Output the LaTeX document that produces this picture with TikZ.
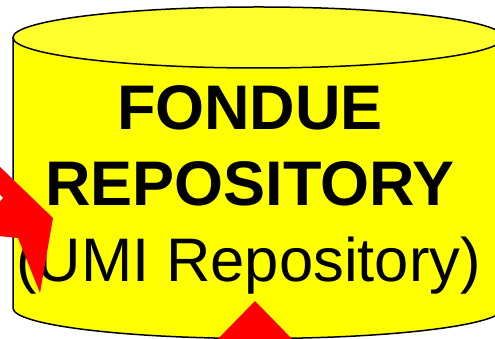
\documentclass[tikz,border=0pt]{standalone}
\usepackage{fontspec}
\setmainfont{Liberation Sans}
\definecolor{bodyyellow}{RGB}{255,255,0}
\definecolor{topyellow}{RGB}{255,255,45}
\definecolor{arrowred}{RGB}{255,0,0}
\begin{document}
\begin{tikzpicture}[x=1pt,y=1pt,
  outline/.style={draw=black,line width=1.5pt},
  bigbold/.style={inner sep=0pt,anchor=base,font=\fontsize{63}{70}\selectfont\bfseries},
  bigreg/.style={inner sep=0pt,anchor=base,font=\fontsize{61.5}{70}\selectfont},
  redshape/.style={fill=arrowred,draw=none}]
\useasboundingbox (0,0) rectangle (495,339);
\clip (0,0) rectangle (495,339);
% cylinder body
\fill[bodyyellow] (13,301.5) -- (13,31) arc[start angle=180,end angle=360,x radius=245.3,y radius=30.5] -- (503.6,301.5) -- cycle;
\draw[outline] (13,301.5) -- (13,31) arc[start angle=180,end angle=360,x radius=245.3,y radius=30.5] -- (503.6,301.5);
% cylinder top
\filldraw[outline,fill=topyellow] (258.3,301.5) ellipse [x radius=245.3,y radius=30.5];
% texts
\node[bigbold] (fondue) at (250,209) {FONDUE};
\node[bigbold] (repo) at (250,133) {REPOSITORY};
\node[bigreg] (umi) at (248.5,57) {(UMI Repository)};
% red arrow heads
\fill[redshape] (-2,174) -- (53,121) -- (40,46) -- (18,101) -- (-2,103) -- (-2,135) -- (3,141) -- (-2,147) -- cycle;
\fill[redshape] (215,-3) -- (255,38) -- (295,-3) -- cycle;
\end{tikzpicture}
\end{document}
